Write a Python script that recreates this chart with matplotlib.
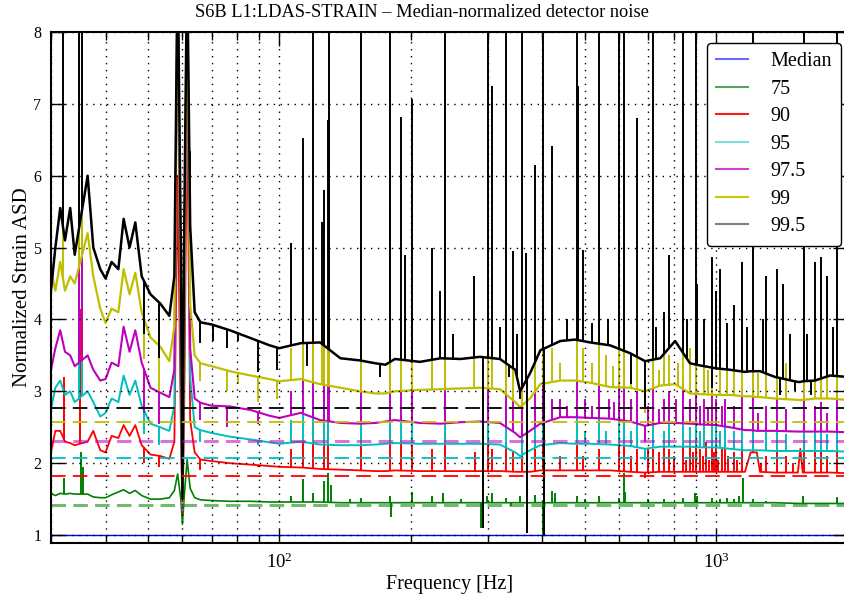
import numpy as np
import matplotlib
matplotlib.use("Agg")
import matplotlib.pyplot as plt
from matplotlib.lines import Line2D
from matplotlib.ticker import FixedLocator, NullFormatter, FixedFormatter

plt.rcParams['font.family'] = ['Liberation Serif', 'DejaVu Serif']
plt.rcParams['mathtext.fontset'] = 'custom'
plt.rcParams['mathtext.rm'] = 'Liberation Serif'
plt.rcParams['mathtext.it'] = 'Liberation Serif:italic'

# ---------------------------------------------------------------- data
# frequency grid of the smoothed percentile spectra [Hz]
freq = [30, 30.7, 31.5, 32.3, 33.2, 34.0, 36.4, 37.5, 38.9, 40.0,
        41.3, 42.8, 44.0, 45.4, 46.8, 48.4, 50.7, 53.4, 56, 57.5,
        58.5, 59.5, 60, 60.5, 61.5, 62.5, 64, 66, 70, 77,
        86, 95, 100, 112, 124, 138, 153, 166, 175, 184,
        210, 234, 260, 288, 320, 347, 356, 375, 396, 440,
        476, 515, 572, 636, 688, 745, 806, 872, 919, 1000,
        1076, 1165, 1200, 1240, 1261, 1365, 1540, 1560, 1580, 1685,
        1824, 2000]

median_freq = [30, 2000]
median_asd = [1.0, 1.0]

asd_75 = [1.58, 1.55, 1.58, 1.57, 1.58, 1.57, 1.57, 1.53, 1.52, 1.52,
          1.56, 1.60, 1.63, 1.58, 1.62, 1.55, 1.50, 1.50, 1.52, 1.62,
          1.85, 1.50, 1.15, 1.50, 2.05, 1.65, 1.52, 1.49, 1.48, 1.47,
          1.47, 1.46, 1.46, 1.46, 1.46, 1.45, 1.45, 1.45, 1.45, 1.45,
          1.45, 1.45, 1.45, 1.45, 1.45, 1.45, 1.45, 1.45, 1.45, 1.45,
          1.45, 1.45, 1.45, 1.45, 1.45, 1.45, 1.45, 1.45, 1.45, 1.45,
          1.45, 1.45, 1.45, 1.45, 1.45, 1.45, 1.44, 1.44, 1.44, 1.44,
          1.44, 1.44]

asd_90 = [2.15, 2.45, 2.45, 2.30, 2.28, 2.25, 2.30, 2.45, 2.18, 2.15,
          2.38, 2.35, 2.53, 2.38, 2.53, 2.25, 2.12, 2.10, 2.06, 2.30,
          6.00, 2.50, 1.30, 2.50, 7.00, 2.60, 2.15, 2.05, 2.03, 2.00,
          1.98, 1.96, 1.95, 1.94, 1.92, 1.91, 1.90, 1.89, 1.89, 1.90,
          1.89, 1.89, 1.89, 1.89, 1.89, 1.88, 1.88, 1.88, 1.90, 1.90,
          1.90, 1.90, 1.90, 1.88, 1.87, 1.88, 1.88, 1.88, 1.88, 1.88,
          1.88, 1.88, 2.15, 2.15, 1.88, 1.87, 1.87, 2.20, 1.87, 1.87,
          1.87, 1.86]

asd_95 = [2.75, 3.05, 3.15, 2.95, 3.00, 2.85, 3.00, 2.85, 2.65, 2.70,
          2.90, 2.85, 3.22, 2.95, 3.15, 2.80, 2.55, 2.50, 2.45, 2.80,
          9.00, 3.00, 1.35, 3.00, 9.00, 3.20, 2.50, 2.46, 2.42, 2.37,
          2.33, 2.29, 2.27, 2.30, 2.26, 2.25, 2.25, 2.26, 2.27, 2.28,
          2.27, 2.27, 2.27, 2.27, 2.26, 2.15, 2.10, 2.18, 2.25, 2.28,
          2.27, 2.27, 2.26, 2.24, 2.20, 2.23, 2.23, 2.23, 2.22, 2.22,
          2.20, 2.18, 2.18, 2.18, 2.18, 2.17, 2.17, 2.17, 2.17, 2.17,
          2.17, 2.16]

asd_975 = [3.30, 3.60, 3.85, 3.55, 3.50, 3.35, 3.50, 3.30, 3.15, 3.17,
           3.40, 3.35, 3.90, 3.55, 3.85, 3.40, 3.05, 2.98, 2.92, 3.30,
           9.00, 3.50, 1.40, 3.50, 9.00, 3.60, 2.90, 2.84, 2.80, 2.79,
           2.74, 2.66, 2.63, 2.70, 2.60, 2.56, 2.55, 2.56, 2.58, 2.60,
           2.56, 2.55, 2.57, 2.58, 2.56, 2.42, 2.36, 2.45, 2.55, 2.64,
           2.64, 2.63, 2.62, 2.58, 2.52, 2.56, 2.56, 2.55, 2.54, 2.53,
           2.50, 2.46, 2.46, 2.45, 2.45, 2.45, 2.44, 2.44, 2.44, 2.44,
           2.44, 2.43]

asd_99 = [4.70, 4.40, 4.80, 4.40, 4.60, 4.50, 5.20, 4.60, 4.15, 3.95,
          4.15, 4.10, 4.70, 4.35, 4.65, 4.10, 3.75, 3.62, 3.42, 3.90,
          9.00, 4.00, 1.45, 4.00, 9.00, 4.20, 3.50, 3.39, 3.35, 3.28,
          3.22, 3.17, 3.14, 3.17, 3.10, 3.05, 3.00, 2.97, 2.97, 3.00,
          3.02, 3.03, 3.04, 3.05, 3.03, 2.85, 2.78, 2.90, 3.10, 3.15,
          3.15, 3.12, 3.06, 3.05, 3.00, 3.08, 3.10, 2.97, 2.96, 2.95,
          2.95, 2.93, 2.93, 2.92, 2.92, 2.90, 2.88, 2.88, 2.88, 2.90,
          2.90, 2.88]

asd_995 = [4.40, 5.00, 5.55, 5.10, 5.55, 4.90, 6.00, 5.00, 4.70, 4.57,
           4.80, 4.70, 5.40, 5.00, 5.35, 4.60, 4.35, 4.22, 4.05, 4.60,
           9.00, 5.00, 1.50, 5.00, 9.00, 5.30, 4.10, 3.96, 3.93, 3.85,
           3.74, 3.64, 3.60, 3.67, 3.68, 3.46, 3.43, 3.39, 3.37, 3.45,
           3.41, 3.46, 3.45, 3.48, 3.45, 3.30, 3.00, 3.25, 3.57, 3.70,
           3.72, 3.68, 3.64, 3.53, 3.42, 3.46, 3.70, 3.39, 3.36, 3.32,
           3.30, 3.27, 3.28, 3.28, 3.28, 3.20, 3.13, 3.13, 3.14, 3.15,
           3.22, 3.20]

# narrow spectral lines (and dips): (frequency [Hz], level)
lines_75 = [(32.2, 1.80), (35.2, 2.15), (35.6, 1.95), (106.5, 1.55), (113.5, 1.78),
            (119.6, 1.58), (126.7, 1.75), (129.5, 1.87), (131, 1.70), (145, 1.50),
            (154.1, 1.52), (179.4, 1.55), (180.5, 1.25), (201.4, 1.60), (224, 1.55),
            (237, 1.58), (260, 1.50), (290, 1.10), (299, 1.55), (307, 1.58),
            (330, 1.52), (340, 1.40), (356, 1.55), (370, 1.03), (385, 1.56),
            (402, 1.00), (421, 1.62), (428, 1.58), (480.7, 1.55), (500, 1.50),
            (540.6, 1.55), (600, 1.52), (615.5, 1.87), (620, 1.60), (700, 1.50),
            (760, 1.50), (840.6, 1.52), (895, 1.58), (905, 1.55), (978, 1.52),
            (1020, 1.50), (1060, 1.52), (1100, 1.50), (1130, 1.55), (1150, 1.80),
            (1213, 1.50), (1300, 1.48), (1580, 1.55), (1895, 1.53)]

lines_90 = [(32.2, 3.20), (35.0, 4.15), (48.9, 2.00), (52.9, 1.95), (65.9, 1.90),
            (89.5, 1.95), (106.5, 2.20), (113.5, 2.30), (119.6, 2.60), (126.7, 2.70),
            (129.5, 2.90), (154.1, 2.40), (179.4, 2.50), (190, 2.30), (201.4, 2.25),
            (223.9, 2.20), (239.8, 2.40), (280, 2.15), (293, 1.10), (300.6, 2.50),
            (307, 2.20), (330.5, 2.30), (343, 2.15), (360, 2.20), (370, 1.05),
            (385, 2.20), (402, 2.40), (404, 1.00), (440, 2.10), (480.7, 2.25),
            (495, 2.10), (540.6, 2.20), (599.6, 2.30), (615.5, 3.20), (640, 2.10),
            (659, 2.20), (688, 1.80), (700, 2.20), (716.8, 2.20), (740, 2.15),
            (760, 2.25), (780.7, 2.20), (800, 2.10), (840.6, 2.30), (870, 2.25),
            (900, 2.40), (920, 2.20), (950, 2.30), (978, 2.25), (1000, 2.30),
            (1030, 2.20), (1050, 2.30), (1100, 2.15), (1145, 2.25), (1213, 2.50),
            (1300, 2.10), (1377, 2.15), (1450, 2.10), (1592, 2.30), (1686, 2.15),
            (1738, 2.20), (1800, 2.10), (1895, 2.15),
            (855, 2.05), (885, 2.15), (935, 2.10), (965, 2.05), (990, 2.15),
            (1010, 2.05), (1065, 2.10), (1120, 2.05), (1270, 2.00), (1500, 2.00)]

lines_95 = [(34.8, 6.25), (35.4, 5.20), (48.9, 2.40), (52.9, 2.25), (65.9, 2.30),
            (89.5, 2.25), (106.5, 2.60), (113.5, 2.70), (119.6, 3.30), (126.7, 3.00),
            (129.5, 3.60), (154.1, 2.90), (179.4, 3.20), (190, 2.60), (201.4, 2.60),
            (239.8, 2.90), (293, 1.10), (300.6, 3.00), (330.5, 2.90), (360, 2.60),
            (370, 1.05), (385, 2.60), (402, 3.00), (404, 1.00), (480.7, 2.70),
            (540.6, 2.70), (599.6, 2.80), (615.5, 4.00), (659, 2.60), (688, 2.05),
            (716.8, 2.80), (780.7, 2.60), (840.6, 2.70), (900, 3.00), (940, 2.60),
            (978, 2.70), (1000, 2.60), (1050, 2.55), (1145, 2.60), (1213, 9.00),
            (1300, 2.50), (1377, 2.55), (1592, 9.00), (1686, 2.50), (1738, 2.50),
            (1895, 2.60),
            (500, 2.45), (560, 2.45), (640, 2.45), (760, 2.45), (870, 2.50),
            (920, 2.45), (1020, 2.45), (1100, 2.45), (1450, 2.40), (1800, 2.40)]

lines_975 = [(34.8, 9.00), (35.4, 9.00), (48.9, 2.70), (52.9, 2.55), (65.9, 2.60),
             (76.0, 2.50), (89.5, 2.55), (106.5, 3.00), (113.5, 3.20), (119.6, 4.20),
             (126.7, 3.60), (129.5, 3.90), (130.1, 4.20), (154.1, 3.50), (179.4, 3.80),
             (190, 3.00), (201.4, 3.10), (239.8, 3.60), (293, 1.10), (300.6, 3.80),
             (330.5, 3.50), (343, 2.90), (360, 3.00), (370, 1.05), (385, 3.00),
             (402, 3.40), (404, 1.00), (421, 2.90), (440, 2.90), (480.7, 3.20),
             (500, 2.90), (540.6, 3.20), (570, 2.90), (599.6, 3.20), (615.5, 4.50),
             (640, 2.90), (659, 3.00), (688, 2.30), (716.8, 3.30), (760, 2.90),
             (780.7, 3.00), (810, 2.90), (840.6, 3.20), (870, 2.90), (900, 3.30),
             (940, 2.90), (978, 3.00), (1000, 2.90), (1050, 2.90), (1100, 2.80),
             (1145, 3.00), (1213, 9.00), (1300, 2.80), (1377, 2.90), (1450, 2.75),
             (1592, 9.00), (1686, 2.80), (1738, 2.85), (1895, 3.00),
             (455, 2.80), (520, 2.80), (585, 2.85), (700, 2.80), (740, 2.75),
             (920, 2.80), (960, 2.75), (1030, 2.80), (1250, 2.70), (1800, 2.70)]

lines_99 = [(32.0, 9.00), (34.8, 9.00), (35.4, 9.00), (48.9, 3.45), (52.9, 3.00),
            (62.6, 4.60), (65.9, 3.15), (76.0, 3.00), (80.6, 3.10), (89.5, 2.85),
            (99.0, 2.90), (106.5, 3.60), (113.5, 4.50), (119.6, 7.20), (125.4, 4.00),
            (126.7, 4.30), (129.5, 5.20), (130.1, 9.00), (154.1, 9.00), (179.4, 5.50),
            (190.0, 3.80), (201.4, 3.90), (223.9, 3.50), (239.8, 9.00), (279.4, 3.50),
            (293, 1.10), (300.6, 6.70), (307.3, 3.80), (330.5, 4.60), (343.1, 3.60),
            (360.0, 4.20), (370, 1.04), (385.0, 3.80), (402.0, 5.50), (404, 1.00),
            (421.2, 3.60), (480.7, 4.60), (495.5, 3.60), (540.6, 5.20), (560, 3.50),
            (599.6, 6.50), (615.5, 7.00), (659, 3.90), (688, 2.70), (716.8, 4.50),
            (760, 3.60), (780.7, 3.50), (840.6, 4.20), (870, 3.60), (900, 4.60),
            (940, 3.50), (978, 3.60), (1020, 3.50), (1100, 3.40), (1145, 3.60),
            (1213, 9.00), (1300, 3.50), (1377, 3.50), (1450, 3.40), (1592, 5.00),
            (1686, 3.50), (1738, 3.60), (1895, 4.20),
            (440, 3.40), (520, 3.40), (580, 3.35), (640, 3.35), (740, 3.30),
            (820, 3.40), (960, 3.30), (1060, 3.30), (1250, 3.25), (1800, 3.25)]

lines_995 = [(32.0, 9.00), (34.8, 9.00), (35.4, 9.00), (48.9, 3.80), (52.9, 3.47),
             (62.6, 6.35), (65.9, 3.67), (70.5, 3.70), (76.0, 3.60), (80.6, 3.70),
             (89.5, 3.27), (99.0, 3.30), (106.5, 5.07), (113.5, 6.53), (116, 3.35),
             (119.6, 9.00), (125.4, 5.35), (126.7, 5.80), (129.5, 6.78), (130.1, 9.00),
             (154.1, 9.00), (170, 3.20), (179.4, 9.00), (190.0, 6.82), (194.2, 4.90),
             (201.4, 7.07), (223.9, 5.00), (233.5, 4.40), (239.8, 9.00), (279.4, 4.60),
             (293, 1.10), (300.6, 9.00), (307.3, 7.25), (330.5, 9.00), (343.1, 4.95),
             (356, 2.90), (360.0, 9.00), (367.5, 4.93), (370, 1.03), (385.0, 6.15),
             (402.0, 9.00), (404, 1.00), (421.2, 6.42), (480.7, 9.00), (482.9, 7.25),
             (495.5, 4.97), (540.6, 9.00), (599.6, 9.00), (615.5, 9.00), (640, 3.10),
             (659, 6.80), (688, 2.78), (716.8, 9.00), (780.7, 4.90), (840.6, 9.00),
             (900, 9.00), (903, 4.50), (978, 4.87), (980, 3.05), (1000, 4.40),
             (1020, 4.70), (1100, 4.20), (1145, 4.80), (1213, 9.00), (1300, 4.60),
             (1377, 4.70), (1400, 2.95), (1420, 4.50), (1520, 3.00), (1592, 9.00),
             (1650, 2.95), (1686, 4.80), (1738, 4.87), (1799, 4.60), (1895, 9.00),
             (250, 3.80), (320, 3.90), (335, 3.20), (350, 3.80), (455, 4.00),
             (520, 3.95), (565, 4.00), (730, 3.90), (760, 4.10), (860, 4.00),
             (940, 4.00), (1060, 3.95), (1180, 3.90), (1280, 4.00), (1480, 3.80),
             (1620, 3.80), (1850, 3.90)]

# Gaussian-noise expectation of each percentile, relative to the median
gauss_levels = [1.414, 1.823, 2.079, 2.307, 2.578, 2.765]

labels = ['75', '90', '95', '97.5', '99', '99.5']
curves = [asd_75, asd_90, asd_95, asd_975, asd_99, asd_995]
line_sets = [lines_75, lines_90, lines_95, lines_975, lines_99, lines_995]
colors = ['#008000', '#ff0000', '#00bfbf', '#bf00bf', '#bfbf00', '#000000']
curve_width = [1.2, 1.3, 1.4, 1.5, 1.6, 1.8]
dash_alpha = [0.55, 1.0, 1.0, 0.55, 1.0, 1.0]
dash_width = [2.2, 1.3, 1.3, 2.2, 1.3, 1.3]
legend_colors = ['#6a6aff', '#5aa55a', '#ff1a1a', '#7fdfdf', '#cc44cc', '#c8c800', '#808080']

# ---------------------------------------------------------------- figure
fig = plt.figure(figsize=(8.44, 5.94), dpi=100)
ax = fig.add_axes([0.0604, 0.0859, 0.9437, 0.8603])
ax.set_xscale('log')

logf = np.log10(freq)

ax.plot(median_freq, median_asd, color='#0000ff', lw=1.0, zorder=2)

for vals, spikes, col, lw in zip(curves, line_sets, colors, curve_width):
    ax.plot(freq, vals, color=col, lw=lw, zorder=2)
    f_sp = np.array([s[0] for s in spikes])
    lev = np.array([s[1] for s in spikes])
    base = np.interp(np.log10(f_sp), logf, vals)
    ax.vlines(f_sp, base, lev, colors=col, lw=1.4, zorder=2)

for lvl, col, a, w in zip(gauss_levels, colors, dash_alpha, dash_width):
    ax.axhline(lvl, color=col, alpha=a, lw=w,
               linestyle=(0, (10.5 / w, 5.2 / w)), zorder=2.2)

ax.set_xlim(30, 2000)
ax.set_ylim(0.89, 8)

ax.xaxis.set_major_locator(FixedLocator([100, 1000]))
ax.xaxis.set_major_formatter(FixedFormatter([r'$10^{2}$', r'$10^{3}$']))
ax.xaxis.set_minor_locator(FixedLocator([30, 40, 50, 60, 70, 80, 90,
                                         200, 300, 400, 500, 600, 700, 800, 900,
                                         2000]))
ax.xaxis.set_minor_formatter(NullFormatter())
ax.set_yticks([1, 2, 3, 4, 5, 6, 7, 8])

ax.tick_params(which='both', direction='in', top=True, right=True, colors='black')
ax.tick_params(axis='y', labelsize=11.5)
ax.tick_params(axis='x', labelsize=13.5)
ax.tick_params(which='major', length=10, width=1.0, pad=7)
ax.tick_params(which='minor', length=5.5, width=1.0)

ax.set_axisbelow(False)
ax.grid(True, which='major', axis='both', color='black', linestyle=(0, (1, 4)), lw=1.0)
ax.grid(True, which='minor', axis='x', color='black', linestyle=(0, (1, 4)), lw=1.0)

for sp in ax.spines.values():
    sp.set_linewidth(1.5)

ax.set_xlabel('Frequency [Hz]', fontsize=14.5, labelpad=2)
ax.set_ylabel('Normalized Strain ASD', fontsize=15, labelpad=1)
fig.text(0.5, 1 - 12.5 / 594, 'S6B L1:LDAS-STRAIN \u2013 Median-normalized detector noise',
         ha='center', va='center', fontsize=13.2)

handles = [Line2D([], [], color=c, lw=1.5) for c in legend_colors]
leg = ax.legend(handles, ['Median'] + labels, loc='upper right',
                bbox_to_anchor=(841 / 844, 1 - 43 / 594),
                bbox_transform=fig.transFigure, borderaxespad=0,
                fontsize=14.5, handlelength=1.6, handletextpad=1.1,
                labelspacing=0.42, borderpad=0.45, fancybox=True, framealpha=1)
leg.get_frame().set_edgecolor('black')
leg.get_frame().set_linewidth(1.0)
leg.set_zorder(10)

fig.savefig('out.png', dpi=100)
